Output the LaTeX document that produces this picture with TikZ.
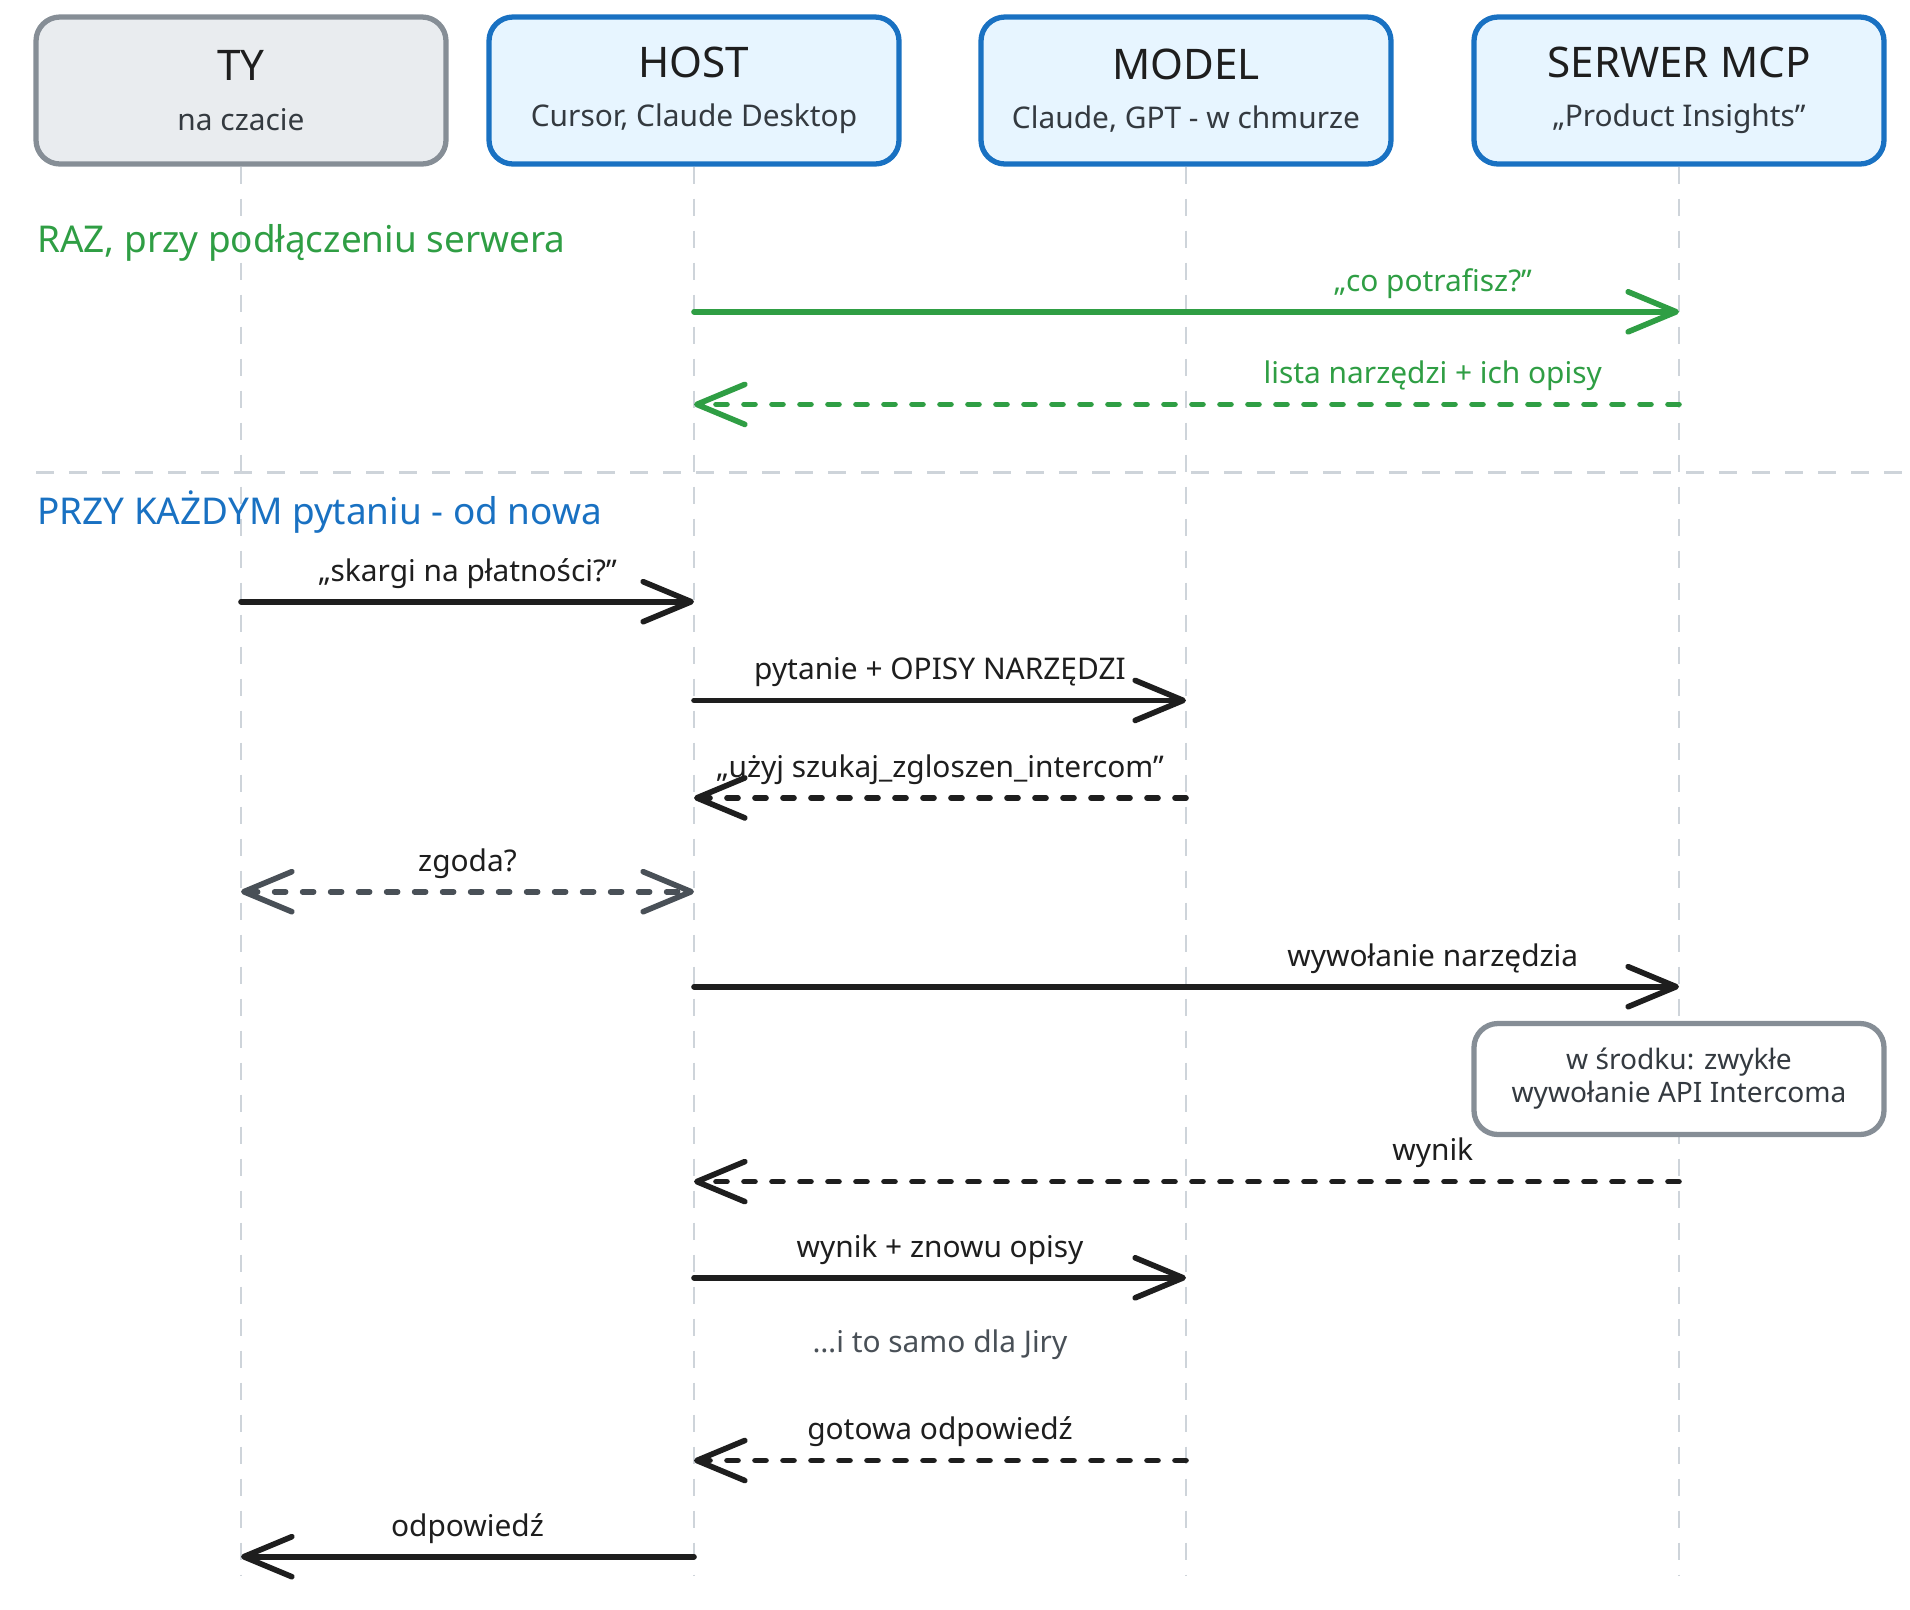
\documentclass[tikz,border=0pt]{standalone}
\usepackage{fontspec}
\setmainfont{Noto Sans}
\usepackage{xcolor}
\usetikzlibrary{arrows.meta, positioning}

\definecolor{ink}{HTML}{1E1E1E}
\definecolor{subink}{HTML}{343A40}
\definecolor{slate}{HTML}{495057}
\definecolor{tyline}{HTML}{868E96}
\definecolor{tyfill}{HTML}{E9ECEF}
\definecolor{hostline}{HTML}{1971C2}
\definecolor{hostfill}{HTML}{E7F5FF}
\definecolor{mcpgreen}{HTML}{2F9E44}
\definecolor{lifegray}{HTML}{CED4DA}

\newcommand{\actortitle}{\fontsize{12}{14}\selectfont}
\newcommand{\actorsub}{\fontsize{8.5}{10}\selectfont\color{subink}}

\begin{document}
\begin{tikzpicture}[
    actor/.style={rectangle, rounded corners=2.4mm, line width=1.5pt, minimum width=4.1cm, minimum height=1.47cm, align=center, text=ink},
    human/.style={actor, draw=tyline, fill=tyfill},
    agent/.style={actor, draw=hostline, fill=hostfill},
    lifeline/.style={draw=lifegray, line width=0.7pt, dash pattern=on 1.7mm off 1.5mm},
    msg/.style={draw=ink, line width=1.6pt, line cap=round, -{Straight Barb[length=4.8mm, width=4mm, round]}},
    back/.style={msg, dash pattern=on 1.1mm off 1.7mm},
    lbl/.style={font=\fontsize{8.5}{10}\selectfont, text=ink, above=-0.1mm},
    phase/.style={anchor=west, inner sep=0pt, font=\fontsize{10.5}{12}\selectfont},
    note/.style={rectangle, rounded corners=2.4mm, draw=tyline, fill=white, line width=1.5pt, minimum width=4.1cm, minimum height=1.11cm, align=center, text=subink, font=\fontsize{8}{9.4}\selectfont}
]
    \useasboundingbox (0,0) rectangle (19.1,-16.1);

    % Participants
    \node[human] (ty) at (2.41,-0.905) {\actortitle TY\\[0.7mm]\actorsub na czacie};
    \node[agent] (host) at (6.94,-0.905) {\actortitle HOST\\[0.7mm]\actorsub Cursor, Claude Desktop};
    \node[agent] (model) at (11.86,-0.905) {\actortitle MODEL\\[0.7mm]\actorsub Claude, GPT - w chmurze};
    \node[agent] (serwer) at (16.79,-0.905) {\actortitle SERWER MCP\\[0.7mm]\actorsub „Product Insights”};

    % Lifelines
    \coordinate (bottom) at (0,-15.75);
    \foreach \who in {ty, host, model, serwer}
        \draw[lifeline] (\who.south) -- (\who.south |- bottom);

    % Message rows
    \foreach \n/\y in {1/3.118, 2/4.044, 3/6.017, 4/7.004, 5/7.979, 6/8.917, 7/9.867, 8/11.816, 9/12.778, 10/14.605, 11/15.567}
        \coordinate (r\n) at (0,-\y);

    % Phase 1: once
    \node[phase, text=mcpgreen] (raz) at (0.365,-2.424) {RAZ, przy podłączeniu serwera};
    \draw[msg, draw=mcpgreen] (host |- r1) -- node[lbl, pos=0.75, text=mcpgreen] {„co potrafisz?”} (serwer |- r1);
    \draw[back, draw=mcpgreen] (serwer |- r2) -- node[lbl, pos=0.25, text=mcpgreen] {lista narzędzi + ich opisy} (host |- r2);

    \draw[draw=lifegray, line width=1pt, dash pattern=on 1.8mm off 1.5mm] (0.36,-4.726) -- (19.1,-4.726);

    % Phase 2: every question
    \node[phase, text=hostline] (kazdy) at (0.365,-5.116) {PRZY KAŻDYM pytaniu - od nowa};
    \draw[msg] (ty |- r3) -- node[lbl] {„skargi na płatności?”} (host |- r3);
    \draw[msg] (host |- r4) -- node[lbl] {pytanie + OPISY NARZĘDZI} (model |- r4);
    \draw[back] (model |- r5) -- node[lbl] {„użyj szukaj\_zgloszen\_intercom”} (host |- r5);
    \draw[back, draw=slate, {Straight Barb[length=4.8mm, width=4mm, round]}-{Straight Barb[length=4.8mm, width=4mm, round]}] (ty |- r6) -- node[lbl] {zgoda?} (host |- r6);
    \draw[msg] (host |- r7) -- node[lbl, pos=0.75] {wywołanie narzędzia} (serwer |- r7);
    \node[note] (api) at (16.79,-10.79) {w środku: zwykłe\\wywołanie API Intercoma};
    \draw[back] (serwer |- r8) -- node[lbl, pos=0.25] {wynik} (host |- r8);
    \draw[msg] (host |- r9) -- node[lbl] {wynik + znowu opisy} (model |- r9);
    \node[font=\fontsize{8.5}{10}\selectfont, text=slate] (jira) at (9.40,-13.45) {…i to samo dla Jiry};
    \draw[back] (model |- r10) -- node[lbl] {gotowa odpowiedź} (host |- r10);
    \draw[msg] (host |- r11) -- node[lbl] {odpowiedź} (ty |- r11);

\end{tikzpicture}
\end{document}
